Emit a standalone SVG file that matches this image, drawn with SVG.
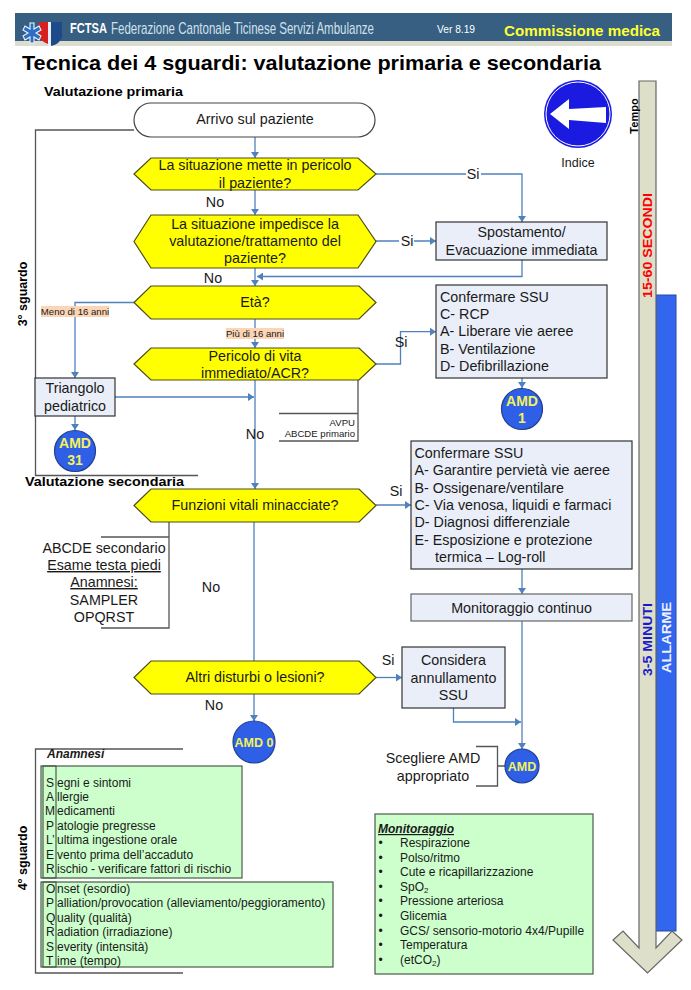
<svg xmlns="http://www.w3.org/2000/svg" width="691" height="990" viewBox="0 0 691 990">
<style>
text{font-family:"Liberation Sans",Arial,sans-serif;fill:#1a1a1a}
.t{font-size:14.3px}
.m{text-anchor:middle}
.s{font-size:12px}
.b{font-weight:bold}
.hex{fill:#ffff00;stroke:#4d4d1a;stroke-width:1.2}
.box{fill:#e9eef8;stroke:#333;stroke-width:1.2}
.gbox{fill:#ccffcc;stroke:#4a5a4a;stroke-width:1.2}
.amd{fill:#2f5fe6;stroke:#1f3f8f;stroke-width:1.2}
.amdt{fill:#f2f25a;font-weight:bold;text-anchor:middle}
.con{fill:none;stroke:#4f81bd;stroke-width:1.3}
.arr{marker-end:url(#a)}
.br{fill:none;stroke:#555;stroke-width:1.3}
.lab{fill:#fbd5b5}
.tiny{font-size:9.6px}
</style>
<defs>
<marker id="a" markerUnits="userSpaceOnUse" markerWidth="8" markerHeight="8" refX="6" refY="4" orient="auto"><path d="M0 0L6 4L0 8Z" fill="#4f81bd"/></marker>
</defs>
<rect width="691" height="990" fill="#fff"/>
<g id="header">
<rect x="15" y="13" width="657" height="28" fill="#365f82"/>
<rect x="15" y="41" width="657" height="5" fill="#ddddcf"/>
<path d="M51 22H62V37Q60 44 51 46Z" fill="#1f4a8a"/>
<path d="M39 22H48V44Q42 42 39 37Z" fill="#d8211f"/>
<path d="M48 22H51V46H48Z" fill="#e8eef5"/>
<path d="M30 23h4v6l5-3 2 4-5 3 5 3-2 4-5-3v6h-4v-6l-5 3-2-4 5-3-5-3 2-4 5 3Z" fill="#2a6fc4" stroke="#eef4fa" stroke-width="1.1"/>
<text transform="translate(70 33) scale(.75 1)" font-size="15" class="b" style="fill:#fff" textLength="49.300" lengthAdjust="spacingAndGlyphs">FCTSA</text>
<text transform="translate(111 34) scale(.7 1)" font-size="16" style="fill:#d3e0ea" textLength="375.700" lengthAdjust="spacingAndGlyphs">Federazione Cantonale Ticinese Servizi Ambulanze</text>
<text x="437" y="33" font-size="10.5" style="fill:#fff" textLength="38" lengthAdjust="spacingAndGlyphs">Ver 8.19</text>
<text x="504" y="36" font-size="14" class="b" style="fill:#ffff33" textLength="156" lengthAdjust="spacingAndGlyphs">Commissione medica</text>
</g>
<text id="title" x="22" y="70" font-size="20.5" class="b" style="fill:#000" textLength="579" lengthAdjust="spacingAndGlyphs">Tecnica dei 4 sguardi: valutazione primaria e secondaria</text>
<text id="sec1" x="44" y="96" font-size="12.5" class="b" style="fill:#000" textLength="139" lengthAdjust="spacingAndGlyphs">Valutazione primaria</text>
<text id="sec2" x="25" y="486" font-size="12.5" class="b" style="fill:#000" textLength="159" lengthAdjust="spacingAndGlyphs">Valutazione secondaria</text>
<g id="connectors">
<path class="con arr" d="M255 137V158"/>
<path class="con arr" d="M255 190V215"/>
<path class="con arr" d="M255 268V286"/>
<path class="con arr" d="M255 319V348"/>
<path class="con arr" d="M255 380V489"/>
<path class="con arr" d="M254 522V721"/>
<path class="con arr" d="M376 174H522V222"/>
<path class="con arr" d="M376 241H436"/>
<path class="con arr" d="M522 260V276.5H257"/>
<path class="con arr" d="M134 302.5H75V378"/>
<path class="con arr" d="M376 364H400.500V331.700H436"/>
<path class="con arr" d="M522 378V388"/>
<path class="con arr" d="M115 397H254"/>
<path class="con arr" d="M75 416V430"/>
<path class="con arr" d="M376 505H411"/>
<path class="con arr" d="M522 569V594"/>
<path class="con arr" d="M522 621V749"/>
<path class="con arr" d="M376 677.500H402"/>
<path class="con arr" d="M453.500 708V722H521"/>
</g>
<g id="brackets">
<path class="br" d="M134 130H35.500V475.500H198"/>
<path class="br" d="M358 380V441H279M279 413.500H358"/>
<path class="br" d="M169 522V628H101M101 537H169"/>
<path class="br" d="M476 746.500H497.500V786H476M497.500 766H505"/>
<path class="br" d="M183 749H35.500V973H183"/>
</g>
<text id="sguardo3" transform="translate(27 294) rotate(-90)" font-size="12.500" class="b m" style="fill:#000">3° sguardo</text>
<text id="sguardo4" transform="translate(27 858) rotate(-90)" font-size="12.500" class="b m" style="fill:#000">4° sguardo</text>
<g id="arrivo"><rect x="134" y="103" width="241" height="34" rx="17" fill="#fff" stroke="#444" stroke-width="1.2"/><text class="t m" x="255" y="124">Arrivo sul paziente</text></g>
<g id="q1"><path class="hex" d="M134 174L151 158H358L376 174L358 190H151Z"/><text class="t m" x="255" y="170">La situazione mette in pericolo</text><text class="t m" x="255" y="188">il paziente?</text></g>
<g id="q2"><path class="hex" d="M134 241.500L151 215H358L376 241.500L358 268H151Z"/><text class="t m" x="255" y="229">La situazione impedisce la</text><text class="t m" x="255" y="246">valutazione/trattamento del</text><text class="t m" x="255" y="263">paziente?</text></g>
<g id="q3"><path class="hex" d="M134 302.500L151 286H359L376 302.500L359 319H151Z"/><text class="t m" x="255" y="307">Età?</text></g>
<g id="q4"><path class="hex" d="M134 364L151 348H359L376 364L359 380H151Z"/><text class="t m" x="255" y="361">Pericolo di vita</text><text class="t m" x="255" y="378">immediato/ACR?</text></g>
<g id="q5"><path class="hex" d="M134 505.500L151 489H359L376 505.500L359 522H151Z"/><text class="t m" x="255" y="510">Funzioni vitali minacciate?</text></g>
<g id="q6"><path class="hex" d="M134 677.500L151 661H359L376 677.500L359 694H151Z"/><text class="t m" x="255" y="682">Altri disturbi o lesioni?</text></g>
<g id="spostamento"><rect class="box" x="436" y="222" width="171" height="38"/><text class="t m" x="521.500" y="237">Spostamento/</text><text class="t m" x="521.500" y="255">Evacuazione immediata</text></g>
<g id="ssu1"><rect class="box" x="436" y="285" width="171" height="93"/>
<text class="t" x="440" y="302">Confermare SSU</text><text class="t" x="440" y="319">C- RCP</text><text class="t" x="440" y="336">A- Liberare vie aeree</text><text class="t" x="440" y="354">B- Ventilazione</text><text class="t" x="440" y="371">D- Defibrillazione</text></g>
<g id="triangolo"><rect class="box" x="35" y="378" width="80" height="38"/><text class="t m" x="75" y="393">Triangolo</text><text class="t m" x="75" y="411">pediatrico</text></g>
<g id="amd31"><circle class="amd" cx="75" cy="451" r="20.500"/><text class="amdt" x="75" y="448" font-size="14">AMD</text><text class="amdt" x="75" y="465" font-size="14">31</text></g>
<g id="amd1"><circle class="amd" cx="522" cy="409" r="20.500"/><text class="amdt" x="522" y="406" font-size="14">AMD</text><text class="amdt" x="522" y="423" font-size="14">1</text></g>
<g id="amd0"><circle class="amd" cx="254" cy="742" r="21"/><text class="amdt" x="254" y="747" font-size="12.500">AMD 0</text></g>
<g id="amd"><circle class="amd" cx="522" cy="766" r="17"/><text class="amdt" x="522" y="771" font-size="12.500">AMD</text></g>
<g id="ssu2"><rect class="box" x="411" y="441" width="221" height="128"/>
<text class="t" x="414.500" y="458">Confermare SSU</text><text class="t" x="414.500" y="475">A- Garantire pervietà vie aeree</text><text class="t" x="414.500" y="493">B- Ossigenare/ventilare</text><text class="t" x="414.500" y="510">C- Via venosa, liquidi e farmaci</text><text class="t" x="414.500" y="527">D- Diagnosi differenziale</text><text class="t" x="414.500" y="545">E- Esposizione e protezione</text><text class="t" x="435" y="562">termica – Log-roll</text></g>
<g id="monitoraggio-continuo"><rect x="411" y="594" width="221" height="27" class="box" style="stroke:#666"/><text class="t m" x="521.500" y="613">Monitoraggio continuo</text></g>
<g id="considera"><rect class="box" x="402" y="647" width="103" height="61"/><text class="t m" x="453.500" y="665">Considera</text><text class="t m" x="453.500" y="683">annullamento</text><text class="t m" x="453.500" y="700">SSU</text></g>
<g id="labels">
<rect class="lab" x="41" y="306" width="68" height="11"/><text class="tiny m" x="75" y="315">Meno di 16 anni</text>
<rect class="lab" x="226" y="328" width="58" height="11"/><text class="tiny m" x="255" y="337">Più di 16 anni</text>
<text class="t m" x="215" y="207">No</text><text class="t m" x="213" y="283">No</text><text class="t m" x="255" y="439">No</text><text class="t m" x="211" y="592">No</text><text class="t m" x="214" y="710">No</text>
<rect x="466" y="168" width="15" height="12" fill="#fff"/><text class="t m" x="473" y="179">Si</text>
<rect x="399" y="235" width="15" height="12" fill="#fff"/><text class="t m" x="407" y="246">Si</text>
<text class="t m" x="401" y="347">Si</text><text class="t m" x="396" y="496">Si</text><text class="t m" x="388" y="665">Si</text>
<text class="tiny" x="355" y="426" text-anchor="end">AVPU</text><text class="tiny" x="355" y="437" text-anchor="end">ABCDE primario</text>
<text class="t m" x="104" y="553">ABCDE secondario</text><text class="t m" x="104" y="570" text-decoration="underline">Esame testa piedi</text><text class="t m" x="104" y="587" text-decoration="underline">Anamnesi:</text><text class="t m" x="104" y="605">SAMPLER</text><text class="t m" x="104" y="622">OPQRST</text>
<text class="t m" x="433" y="763">Scegliere AMD</text><text class="t m" x="433" y="781">appropriato</text>
<text x="47" y="758" font-size="12" class="b" font-style="italic">Anamnesi</text>
</g>
<g id="sampler"><rect class="gbox" x="41" y="766" width="201" height="112"/><rect x="43" y="766" width="13" height="112" fill="none" stroke="#4a5a4a" stroke-width="1.2"/>
<g class="s"><text x="46" y="787">S</text><text x="57" y="787">egni e sintomi</text><text x="46" y="801">A</text><text x="57" y="801">llergie</text><text x="45" y="815">M</text><text x="57" y="815">edicamenti</text><text x="46" y="830">P</text><text x="57" y="830">atologie pregresse</text><text x="46" y="844">L’</text><text x="57" y="844">ultima ingestione orale</text><text x="46" y="859">E</text><text x="57" y="859">vento prima dell’accaduto</text><text x="46" y="873">R</text><text x="57" y="873">ischio - verificare fattori di rischio</text></g></g>
<g id="opqrst"><rect class="gbox" x="41" y="882" width="292" height="85"/><rect x="43" y="882" width="13" height="85" fill="none" stroke="#4a5a4a" stroke-width="1.2"/>
<g class="s"><text x="46" y="893">O</text><text x="57" y="893">nset (esordio)</text><text x="46" y="907">P</text><text x="57" y="907">alliation/provocation (alleviamento/peggioramento)</text><text x="46" y="922">Q</text><text x="57" y="922">uality (qualità)</text><text x="46" y="936">R</text><text x="57" y="936">adiation (irradiazione)</text><text x="46" y="951">S</text><text x="57" y="951">everity (intensità)</text><text x="46" y="965">T</text><text x="57" y="965">ime (tempo)</text></g></g>
<g id="monitoraggio"><rect class="gbox" x="375" y="814" width="218" height="160"/>
<text x="378" y="833" font-size="12" class="b" font-style="italic" text-decoration="underline">Monitoraggio</text>
<g class="s">
<text x="378.500" y="847">•</text><text x="400" y="847">Respirazione</text>
<text x="378.500" y="862">•</text><text x="400" y="862">Polso/ritmo</text>
<text x="378.500" y="876">•</text><text x="400" y="876">Cute e ricapillarizzazione</text>
<text x="378.500" y="891">•</text><text x="400" y="891">SpO<tspan font-size="8" dy="2">2</tspan></text>
<text x="378.500" y="905">•</text><text x="400" y="905">Pressione arteriosa</text>
<text x="378.500" y="920">•</text><text x="400" y="920">Glicemia</text>
<text x="378.500" y="935">•</text><text x="400" y="935">GCS/ sensorio-motorio 4x4/Pupille</text>
<text x="378.500" y="949">•</text><text x="400" y="949">Temperatura</text>
<text x="378.500" y="964">•</text><text x="400" y="964">(etCO<tspan font-size="8" dy="2">2</tspan><tspan dy="-2">)</tspan></text>
</g></g>
<g id="indice"><circle cx="578" cy="114" r="34" fill="#1a1ae0"/><circle cx="578" cy="114" r="32" fill="none" stroke="#fff" stroke-width="1"/><path d="M550 114L569 99V109L606 107V123L569 120V129Z" fill="#fff"/><text x="578" y="167" font-size="12.500" class="m">Indice</text></g>
<g id="tempo"><rect x="656" y="295" width="20" height="636" fill="#3366ee" stroke="#2a4aa0" stroke-width="1"/>
<path d="M639 81H656V948L672 931L682 940L647.500 973L613 940L623 931L639 948Z" fill="#dddfc9" stroke="#666" stroke-width="1.2"/>
<text transform="translate(638 116) rotate(-90)" font-size="11" class="b m" style="fill:#000">Tempo</text>
<text transform="translate(652 245.500) rotate(-90)" font-size="13" class="b m" style="fill:#f00" textLength="105" lengthAdjust="spacingAndGlyphs">15-60 SECONDI</text>
<text transform="translate(652 639.500) rotate(-90)" font-size="13" class="b m" style="fill:#1a1acc" textLength="73" lengthAdjust="spacingAndGlyphs">3-5 MINUTI</text>
<text transform="translate(671 637.500) rotate(-90)" font-size="13.500" class="b m" style="fill:#eef2ff" textLength="71" lengthAdjust="spacingAndGlyphs">ALLARME</text>
</g>
</svg>
